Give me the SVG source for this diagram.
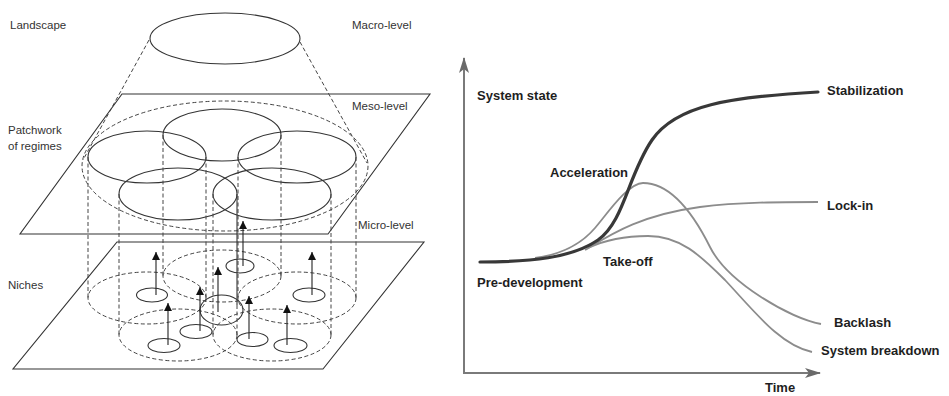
<svg xmlns="http://www.w3.org/2000/svg" width="949" height="396" viewBox="0 0 949 396">
<style>
.lbl{font-family:"Liberation Sans",Arial,sans-serif;font-size:11.5px;fill:#333}
.blbl{font-family:"Liberation Sans",Arial,sans-serif;font-size:13px;font-weight:bold;fill:#1e1e1e}
.solid{fill:none;stroke:#333;stroke-width:1.1}
.dash{fill:none;stroke:#444;stroke-width:1;stroke-dasharray:4 2.5}
.arr{fill:none;stroke:#222;stroke-width:1.1;marker-end:url(#ah)}
.axis{fill:none;stroke:#7a7a7a;stroke-width:2}
.path{fill:none;stroke:#8c8c8c;stroke-width:1.8}
.main{fill:none;stroke:#383838;stroke-width:3.2;stroke-linecap:round}
</style>
<defs>
<marker id="ah" viewBox="0 0 10 10" refX="10" refY="5" markerWidth="10" markerHeight="8" markerUnits="userSpaceOnUse" orient="auto">
<path d="M0,0 L10,5 L0,10 z" fill="#111"/>
</marker>
<marker id="axh" viewBox="0 0 16 10" refX="15" refY="5" markerWidth="17" markerHeight="10" markerUnits="userSpaceOnUse" orient="auto">
<path d="M0,0 L16,5 L0,10 L4,5 z" fill="#6a6a6a"/>
</marker>
</defs>
<rect width="949" height="396" fill="#fff"/>

<!-- LEFT: multi-level perspective -->
<g id="landscape">
<ellipse class="solid" cx="225" cy="38.5" rx="75" ry="25.5"/>
<text class="lbl" x="10" y="29">Landscape</text>
<text class="lbl" x="352" y="29">Macro-level</text>
</g>

<g id="meso-plane">
<polygon class="solid" points="122,94 430,94 328,234 20,234"/>
<text class="lbl" x="352" y="110">Meso-level</text>
<text class="lbl" x="8" y="134">Patchwork</text>
<text class="lbl" x="8" y="150">of regimes</text>
</g>

<g id="regimes">
<ellipse class="dash" cx="225" cy="166" rx="143" ry="65"/>
<ellipse class="solid" cx="222" cy="135" rx="59" ry="26"/>
<ellipse class="solid" cx="147" cy="157" rx="59" ry="26"/>
<ellipse class="solid" cx="297" cy="157" rx="59" ry="26"/>
<ellipse class="solid" cx="178" cy="194" rx="59" ry="26"/>
<ellipse class="solid" cx="272" cy="194" rx="59" ry="26"/>
</g>

<g id="niche-plane">
<polygon class="solid" points="117,242 424,242 323,369 13,369"/>
<text class="lbl" x="358" y="229">Micro-level</text>
<text class="lbl" x="8" y="289">Niches</text>
</g>

<g id="niche-regions">
<ellipse class="dash" cx="222" cy="276" rx="59" ry="26"/>
<ellipse class="dash" cx="147" cy="298" rx="59" ry="26"/>
<ellipse class="dash" cx="297" cy="298" rx="59" ry="26"/>
<ellipse class="dash" cx="178" cy="335" rx="59" ry="26"/>
<ellipse class="dash" cx="272" cy="335" rx="59" ry="26"/>
</g>

<g id="niches">
<ellipse class="solid" cx="240" cy="266" rx="14" ry="7"/>
<ellipse class="solid" cx="152" cy="295" rx="15.5" ry="7"/>
<ellipse class="solid" cx="309" cy="295" rx="16" ry="7"/>
<ellipse class="solid" cx="221.5" cy="310" rx="21.5" ry="15"/>
<ellipse class="solid" cx="196" cy="331.5" rx="16" ry="7"/>
<ellipse class="solid" cx="164" cy="345.5" rx="16" ry="7"/>
<ellipse class="solid" cx="252.5" cy="339.5" rx="15.5" ry="7"/>
<ellipse class="solid" cx="290.5" cy="345.5" rx="16.5" ry="7"/>
</g>

<g id="connectors">
<line class="dash" x1="149" y1="40" x2="83" y2="160"/>
<line class="dash" x1="300" y1="42" x2="367" y2="163"/>
<line class="dash" x1="163" y1="135" x2="163" y2="276"/>
<line class="dash" x1="281" y1="135" x2="281" y2="276"/>
<line class="dash" x1="88" y1="157" x2="88" y2="298"/>
<line class="dash" x1="206" y1="157" x2="206" y2="298"/>
<line class="dash" x1="238" y1="157" x2="238" y2="298"/>
<line class="dash" x1="356" y1="157" x2="356" y2="298"/>
<line class="dash" x1="119" y1="194" x2="119" y2="335"/>
<line class="solid" x1="237" y1="194" x2="237" y2="305"/>
<line class="dash" x1="237" y1="305" x2="237" y2="335"/>
<line class="dash" x1="213" y1="194" x2="213" y2="335"/>
<line class="dash" x1="331" y1="194" x2="331" y2="335"/>
<line class="arr" x1="243" y1="266" x2="243" y2="221"/>
<line class="arr" x1="156" y1="295" x2="156" y2="252"/>
<line class="arr" x1="312" y1="295" x2="312" y2="252"/>
<line class="arr" x1="218" y1="312" x2="218" y2="267"/>
<line class="arr" x1="200" y1="331" x2="200" y2="287"/>
<line class="arr" x1="168" y1="345" x2="168" y2="303"/>
<line class="arr" x1="249" y1="339" x2="249" y2="296"/>
<line class="arr" x1="287" y1="345" x2="287" y2="305"/>
</g>

<!-- RIGHT: transition pathways chart -->
<g id="axes">
<line class="axis" x1="464" y1="374" x2="464" y2="58" marker-end="url(#axh)"/>
<line class="axis" x1="463" y1="373" x2="820" y2="373" marker-end="url(#axh)"/>
<text class="blbl" x="477" y="100">System state</text>
<text class="blbl" x="765" y="392">Time</text>
</g>

<g id="pathways">
<path class="path" d="M535,258 C565,254 583,242 595,228 C607,214 628,183 643,183 C668,183 690,207 710,247 C728,283 790,318 821,324"/>
<path class="path" d="M585,250 C610,235 640,215 700,207 C740,202 780,202 818,202"/>
<path class="path" d="M588,248 C605,240 625,236 648,236 C680,236 700,255 725,280 C755,312 780,345 812,352"/>
<path class="main" d="M480,262 C530,262 572,258 598,240 C624,222 628,175 652,140 C676,105 730,97 818,92"/>
</g>

<g id="labels">
<text class="blbl" x="827" y="95">Stabilization</text>
<text class="blbl" x="550" y="177">Acceleration</text>
<text class="blbl" x="827" y="210">Lock-in</text>
<text class="blbl" x="603" y="266">Take-off</text>
<text class="blbl" x="477" y="287">Pre-development</text>
<text class="blbl" x="834" y="327">Backlash</text>
<text class="blbl" x="821" y="355">System breakdown</text>
</g>
</svg>
